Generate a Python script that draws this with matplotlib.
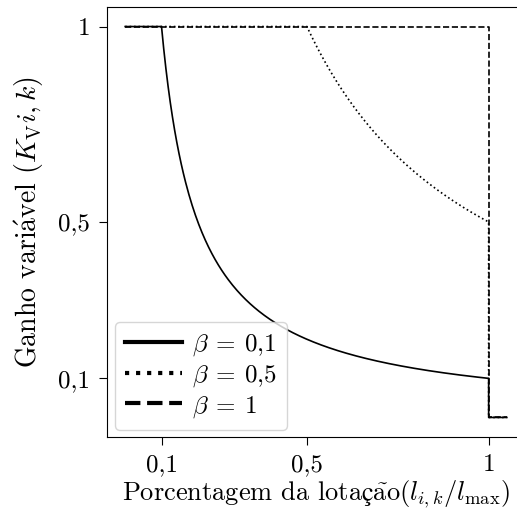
import numpy as np
import matplotlib
matplotlib.use("Agg")
import matplotlib.pyplot as plt
from matplotlib.lines import Line2D

plt.rcParams['font.family'] = ['cmr10', 'DejaVu Serif']
plt.rcParams['mathtext.fontset'] = 'cm'
plt.rcParams['axes.formatter.use_mathtext'] = True

# Data
betas = [0.1, 0.5, 1.0]
beta_labels = [r'$\beta\:=\:0{,}1$', r'$\beta\:=\:0{,}5$', r'$\beta\:=\:1$']
line_styles = ['-', ':', '--']
x_start, x_full, x_end = 0.0, 1.0, 1.05   # lotação fraction domain
k_after_full = 0.0                          # gain after full capacity
tick_vals = [0.1, 0.5, 1.0]
tick_labels = ['0,1', '0,5', '1']

def gain_curve(beta):
    x_mid = np.linspace(beta, x_full, 300)
    xs = np.concatenate([[x_start], x_mid, [x_full, x_end]])
    ys = np.concatenate([[1.0], beta / x_mid, [k_after_full, k_after_full]])
    return xs, ys

fig = plt.figure(figsize=(5.17, 5.15), dpi=100)
ax = fig.add_axes([107/517, 78/515, 418/517, 430/515])

for b, ls in zip(betas, line_styles):
    xs, ys = gain_curve(b)
    ax.plot(xs, ys, color='black', linestyle=ls, linewidth=1.2)

ax.set_xlim(-0.05, 1.1)
ax.set_ylim(-0.05, 1.05)
ax.set_xticks(tick_vals)
ax.set_xticklabels(tick_labels)
ax.set_yticks(tick_vals)
ax.set_yticklabels(tick_labels)
ax.tick_params(labelsize=18, direction='out', length=6, pad=6)

ax.set_xlabel(r'Porcentagem da lota$\mathrm{ç\tilde{a}o}(l_{i,k}/l_{\max})$',
              fontsize=19, labelpad=2)
ax.set_ylabel(r'Ganho vari$\mathrm{\acute{a}}$vel $(K_{\mathrm{V}}i,k)$', fontsize=20, labelpad=9)

handles = [Line2D([0], [0], color='black', linestyle=ls, linewidth=3)
           for ls in line_styles]
ax.legend(handles, beta_labels, loc='lower left', fontsize=18,
          handlelength=2.3, handletextpad=0.4, labelspacing=0.2,
          borderaxespad=0.3)

fig.savefig('out.png', dpi=100)
